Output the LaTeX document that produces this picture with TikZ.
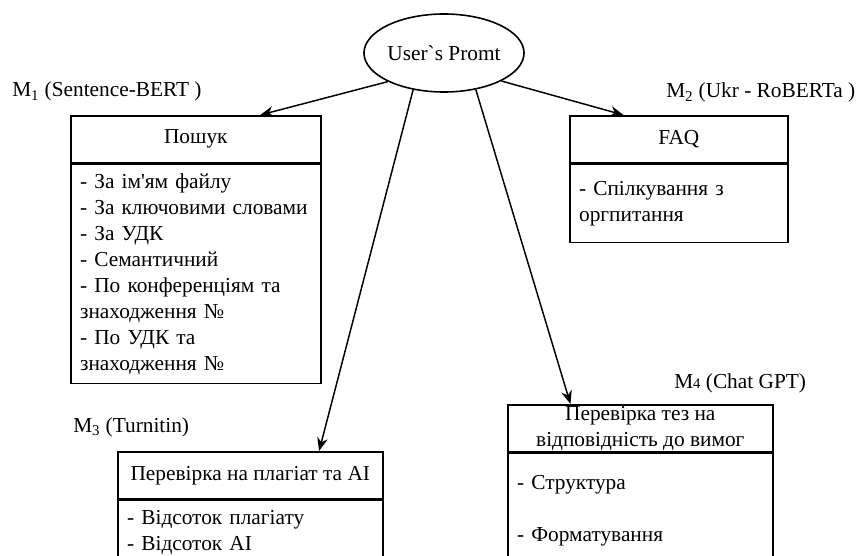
\documentclass[tikz,border=0pt]{standalone}
\usepackage{fontspec}
\setmainfont{Liberation Serif}
\usetikzlibrary{arrows.meta}
\usetikzlibrary{shapes.geometric}
\usetikzlibrary{calc}
\tikzset{%
    boxhead/.style={draw, line width=1.2pt, anchor=north west, minimum height=35.25pt, inner sep=0pt, align=center},%
    boxbody/.style={draw, line width=1.2pt, anchor=north west, inner xsep=7pt, inner ysep=0pt, align=left},%
    modellabel/.style={anchor=base west, inner sep=0pt},%
    arr/.style={line width=1.1pt, -{Stealth[length=10pt,width=8pt]}},%
}

\begin{document}
\begin{tikzpicture}[x=0.75pt,y=0.75pt,yscale=-1,xscale=1,font=\fontsize{16}{19.5}\selectfont]
\useasboundingbox (0,0) rectangle (860,556);
\clip (0,0) rectangle (860,556);

%Shape: Ellipse [id:prompt]
\node [draw, ellipse, line width=1.2pt, minimum width=117pt, minimum height=58.5pt, inner sep=0pt] (prompt) at (444,53) {User\textasciigrave s Promt};

%Shape: Box [id:search]
\node [boxhead, minimum width=187.5pt] (pos_head) at (70,115) {Пошук};
\node [boxbody, text width=173.5pt, minimum height=164.25pt] (pos_body) at (pos_head.south west) {- За ім\textquotesingle ям файлу\\- За ключовими словами\\- За УДК\\- Семантичний\\- По конференціям та\\знаходження №\\- По УДК та\\знаходження №};

%Shape: Box [id:faq]
\node [boxhead, minimum width=163.5pt] (faq_head) at (569,115) {FAQ};
\node [boxbody, text width=149.5pt, minimum height=58.5pt] (faq_body) at (faq_head.south west) {- Спілкування з\\оргпитання};

%Shape: Box [id:plagiarism]
\node [boxhead, minimum width=198.75pt] (plag_head) at (117,451) {Перевірка на плагіат та AI};
\node [boxbody, text width=184.75pt, minimum height=48pt] (plag_body) at (plag_head.south west) {- Відсоток плагіату\\- Відсоток AI};

%Shape: Box [id:gpt]
\node [boxhead, minimum width=198.75pt] (gpt_head) at (507,404) {Перевірка тез на\\відповідність до вимог};
\node [boxbody, text width=184.75pt, minimum height=86.25pt] (gpt_body) at (gpt_head.south west) {- Структура\\[19.5pt]- Форматування};

% Text Node
\node [modellabel] (lbl_m1) at (12,97) {M\textsubscript{1} (Sentence-BERT )};
% Text Node
\node [modellabel] (lbl_m2) at (666,98) {M\textsubscript{2} (Ukr - RoBERTa )};
% Text Node
\node [modellabel] (lbl_m3) at (73,432) {M\textsubscript{3} (Turnitin)};
% Text Node
\node [modellabel] (lbl_m4) at (674,388) {M{\fontsize{11}{12}\selectfont 4} (Chat GPT)};

% Arrows
\coordinate (pos_in) at ($(pos_head.north west)!0.756!(pos_head.north east)$);
\coordinate (faq_in) at ($(faq_head.north west)!0.248!(faq_head.north east)$);
\coordinate (plag_in) at ($(plag_head.north west)!0.758!(plag_head.north east)$);
\coordinate (gpt_in) at ($(gpt_head.north west)!0.238!(gpt_head.north east)$);
\draw [arr] (prompt.207) -- (pos_in);
\draw [arr] (prompt.334) -- (faq_in);
\draw [arr] (prompt.230) -- (plag_in);
\draw [arr] (prompt.311) -- (gpt_in);

\end{tikzpicture}
\end{document}
